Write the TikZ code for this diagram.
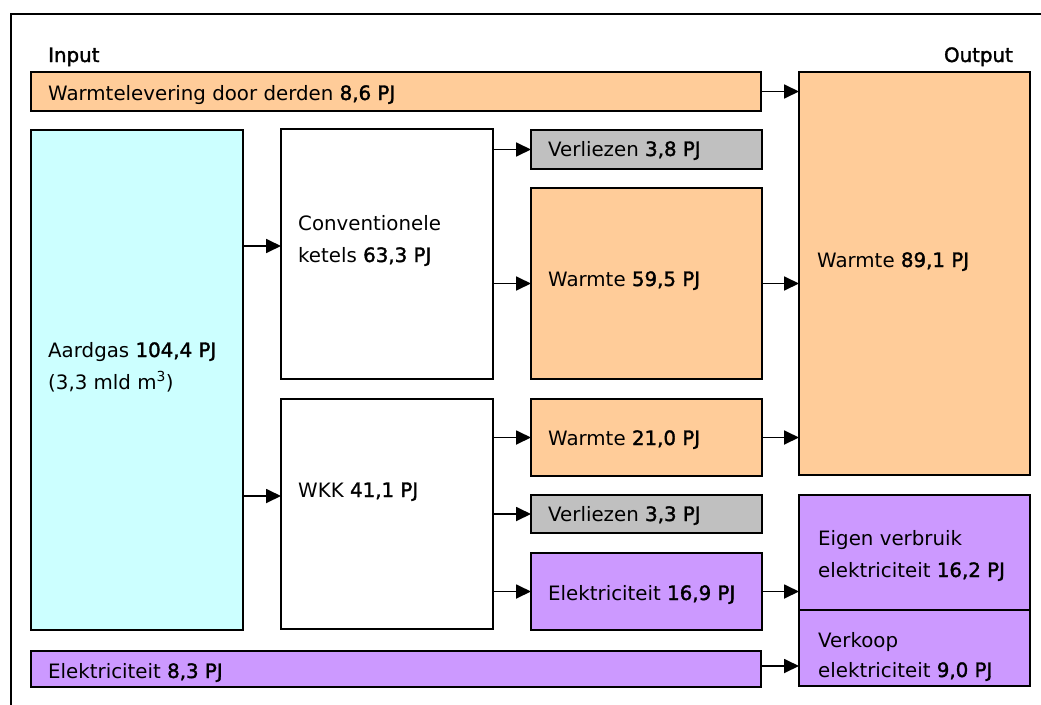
\documentclass[tikz,border=0pt]{standalone}
\usepackage{fontspec}
\setmainfont{DejaVu Sans}
\newfontfamily\numf{DejaVu Sans}[FakeBold=1.6]
\usetikzlibrary{arrows.meta}
\definecolor{orng}{HTML}{FFCC99}
\definecolor{cyanf}{HTML}{CCFFFF}
\definecolor{grayf}{HTML}{C0C0C0}
\definecolor{purp}{HTML}{CC99FF}
\newcommand\nm[1]{{\numf #1}}
\tikzset{
  box/.style={draw=black, line width=2pt, anchor=north west, inner sep=0pt, outer sep=0pt},
  txt/.style={anchor=base west, inner sep=0pt, font=\fontsize{19.8}{24}\selectfont},
  arr/.style={line width=1.8pt, -{Triangle[length=15pt,width=14pt]}},
}
\begin{document}
\begin{tikzpicture}[x=1pt,y=-1pt]
\useasboundingbox (0,0) rectangle (1041,704);
\fill[white] (0,0) rectangle (1041,704);
% frame
\draw[line width=2pt] (11,712) -- (11,14) -- (1050,14);
% labels
\node[txt] (lin) at (48,62) {\nm{Input}};
\node[txt, anchor=base east] (lout) at (1013,62) {\nm{Output}};
% boxes
\node[box, fill=orng, minimum width=730pt, minimum height=39pt] (lev) at (31,72) {};
\node[box, fill=orng, minimum width=231pt, minimum height=403pt] (out) at (799,72) {};
\node[box, fill=cyanf, minimum width=212pt, minimum height=500pt] (aard) at (31,130) {};
\node[box, fill=white, minimum width=212pt, minimum height=250pt] (conv) at (281,129) {};
\node[box, fill=white, minimum width=212pt, minimum height=230pt] (wkk) at (281,399) {};
\node[box, fill=grayf, minimum width=231pt, minimum height=39pt] (verl1) at (531,130) {};
\node[box, fill=orng, minimum width=231pt, minimum height=191pt] (warm1) at (531,188) {};
\node[box, fill=orng, minimum width=231pt, minimum height=77pt] (warm2) at (531,399) {};
\node[box, fill=grayf, minimum width=231pt, minimum height=38pt] (verl2) at (531,495) {};
\node[box, fill=purp, minimum width=231pt, minimum height=77pt] (elek1) at (531,553) {};
\node[box, fill=purp, minimum width=231pt, minimum height=115pt] (eigen) at (799,495) {};
\node[box, fill=purp, minimum width=231pt, minimum height=76pt] (verk) at (799,610) {};
\node[box, fill=purp, minimum width=730pt, minimum height=36pt] (elek2) at (31,651) {};
% texts
\node[txt] (tlev) at (48,100) {Warmtelevering door derden \nm{8,6 PJ}};
\node[txt] (taard1) at (48,357) {Aardgas \nm{104,4 PJ}};
\node[txt] (taard2) at (48,389) {(3,3 mld m\textsuperscript{3})};
\node[txt] (tconv1) at (298,230) {Conventionele};
\node[txt] (tconv2) at (298,262) {ketels \nm{63,3 PJ}};
\node[txt] (twkk) at (298,497) {WKK \nm{41,1 PJ}};
\node[txt] (tverl1) at (548,156) {Verliezen \nm{3,8 PJ}};
\node[txt] (twarm1) at (548,286) {Warmte \nm{59,5 PJ}};
\node[txt] (tout) at (817,267) {Warmte \nm{89,1 PJ}};
\node[txt] (twarm2) at (548,445) {Warmte \nm{21,0 PJ}};
\node[txt] (tverl2) at (548,521) {Verliezen \nm{3,3 PJ}};
\node[txt] (telek1) at (548,600) {Elektriciteit \nm{16,9 PJ}};
\node[txt] (teigen1) at (818,545) {Eigen verbruik};
\node[txt] (teigen2) at (818,577) {elektriciteit \nm{16,2 PJ}};
\node[txt] (tverk1) at (818,647) {Verkoop};
\node[txt] (tverk2) at (818,677) {elektriciteit \nm{9,0 PJ}};
\node[txt] (telek2) at (48,678) {Elektriciteit \nm{8,3 PJ}};
% arrows
\draw[arr] (aard.east |- 0,246) -- (conv.west |- 0,246);
\draw[arr] (aard.east |- 0,496) -- (wkk.west |- 0,496);
\draw[arr] (conv.east |- verl1.west) -- (verl1.west);
\draw[arr] (conv.east |- warm1.west) -- (warm1.west);
\draw[arr] (wkk.east |- warm2.west) -- (warm2.west);
\draw[arr] (wkk.east |- verl2.west) -- (verl2.west);
\draw[arr] (wkk.east |- elek1.west) -- (elek1.west);
\draw[arr] (lev.east) -- (out.west |- lev.east);
\draw[arr] (warm1.east) -- (out.west |- warm1.east);
\draw[arr] (warm2.east) -- (out.west |- warm2.east);
\draw[arr] (elek1.east) -- (eigen.west |- elek1.east);
\draw[arr] (elek2.east |- 0,666) -- (verk.west |- 0,666);
\end{tikzpicture}
\end{document}
